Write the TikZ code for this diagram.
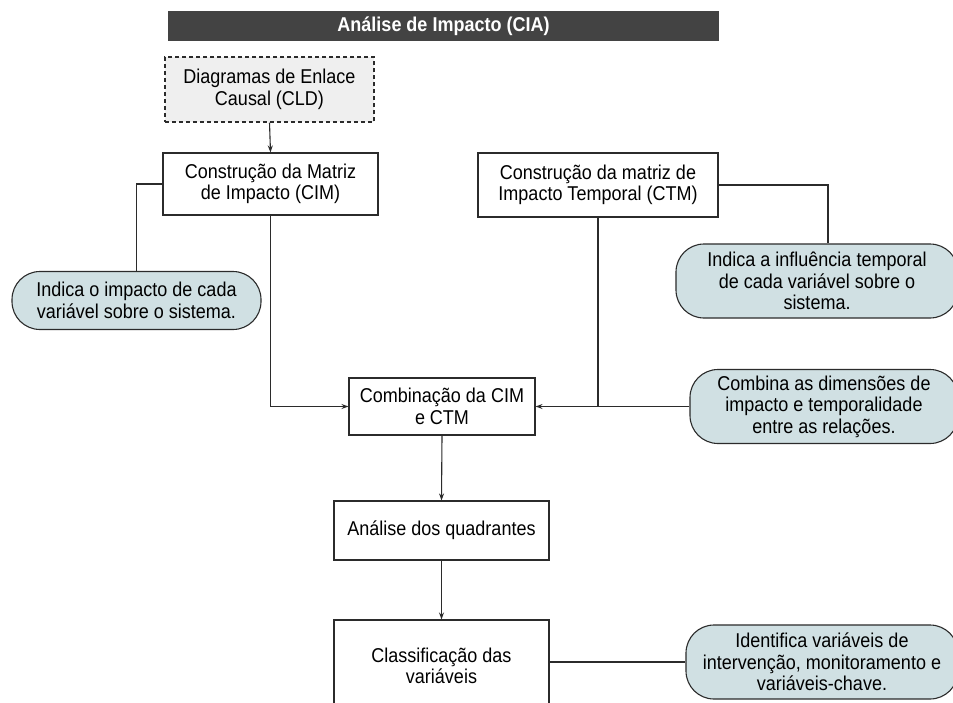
\documentclass[tikz,border=0pt]{standalone}
\usepackage{fontspec}
\setmainfont{Liberation Sans}[FakeStretch=0.9]
\usetikzlibrary{arrows.meta}
\definecolor{barfill}{HTML}{434343}
\definecolor{notefill}{HTML}{D0E0E3}
\definecolor{cldfill}{HTML}{EFEFEF}
\definecolor{edgegray}{HTML}{2B2B2B}

\tikzset{
  txt/.style={font=\fontsize{20}{21.5}\selectfont, align=center, inner sep=0pt},
  titlebar/.style={txt, fill=barfill, text=white, font=\fontsize{20}{21.5}\selectfont\bfseries},
  stepbox/.style={txt, draw=edgegray, line width=1.1pt, fill=white},
  sourcebox/.style={txt, draw=edgegray, line width=1.1pt, fill=cldfill, dash pattern=on 4pt off 3pt},
  note/.style={txt, draw=edgegray, line width=1.1pt, fill=notefill, rounded corners=28pt},
  link/.style={draw=edgegray, line width=1.1pt},
  flow/.style={link, -{Stealth[length=7pt,width=5pt]}}
}

\begin{document}
\begin{tikzpicture}[x=1pt,y=-1pt]
\useasboundingbox (0,0) rectangle (953,702);
\fill[white] (0,0) rectangle (953,702);
\clip (0,0) rectangle (953,702);

% header
\node[titlebar, minimum width=551pt, minimum height=30pt] (title) at (443.5,26) {Análise de Impacto (CIA)};

% main flow
\node[sourcebox, minimum width=209pt, minimum height=65pt] (cld) at (269.5,89.5) {Diagramas de Enlace\\Causal (CLD)};
\node[stepbox, minimum width=215pt, minimum height=62pt] (cim) at (270.5,184) {Construção da Matriz\\de Impacto (CIM)};
\node[stepbox, minimum width=240pt, minimum height=64pt] (ctm) at (598,185) {Construção da matriz de\\Impacto Temporal (CTM)};
\node[stepbox, minimum width=186pt, minimum height=57pt] (comb) at (442,406.5) {Combinação da CIM\\e CTM};
\node[stepbox, minimum width=215pt, minimum height=59pt] (ana) at (441.5,530.5) {Análise dos quadrantes};
\node[stepbox, minimum width=215pt, minimum height=92pt] (cls) at (441.5,666) {Classificação das\\variáveis};

% annotations
\node[note, minimum width=249pt, minimum height=58pt] (ncim) at (136.5,300.5) {Indica o impacto de cada\\variável sobre o sistema.};
\node[note, minimum width=282pt, minimum height=74pt] (nctm) at (817,281) {Indica a influência temporal\\de cada variável sobre o\\sistema.};
\node[note, minimum width=268pt, minimum height=74pt] (ncomb) at (824,406.5) {Combina as dimensões de\\impacto e temporalidade\\entre as relações.};
\node[note, minimum width=272pt, minimum height=74pt] (ncls) at (822,662) {Identifica variáveis de\\intervenção, monitoramento e\\variáveis-chave.};

% connectors
\draw[flow] (cld.south) -- (cim.north);
\draw[link] (cim.west) -| (ncim.north);
\draw[flow] (cim.south) |- (comb.west);
\draw[link] (ctm.east) -| ([xshift=11pt]nctm.north);
\draw[link] (ctm.south) -- (ctm.south |- comb.east);
\draw[flow] (ncomb.west) -- (comb.east);
\draw[flow] (comb.south) -- (ana.north);
\draw[flow] (ana.south) -- (cls.north);
\draw[link] (cls.east |- ncls.west) -- (ncls.west);
\end{tikzpicture}
\end{document}
